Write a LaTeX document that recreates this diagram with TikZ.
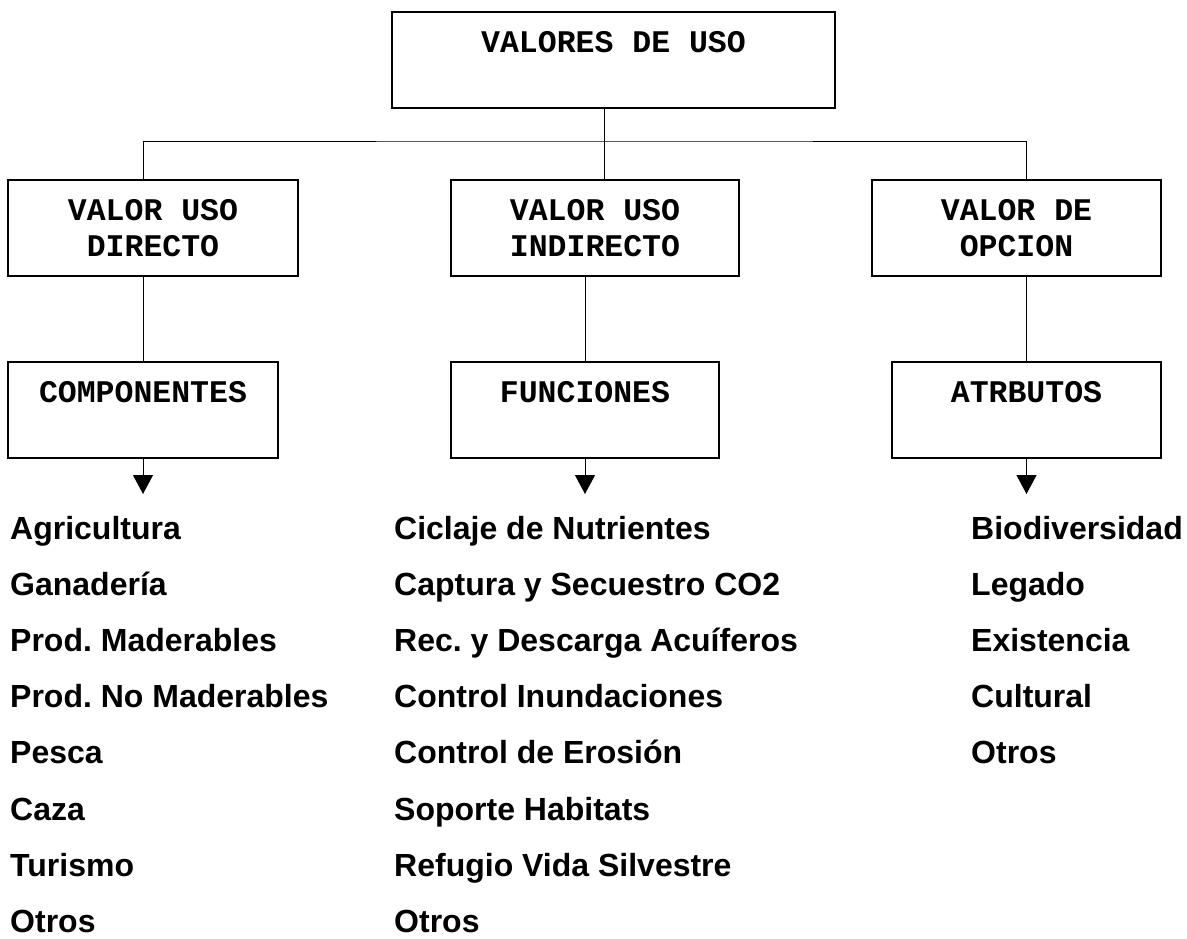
\documentclass[tikz,border=0pt]{standalone}
\usepackage{fontspec}
\setmainfont{Liberation Sans}
\newfontfamily\boxfont{Liberation Mono}
\usetikzlibrary{arrows.meta}
\frenchspacing

\begin{document}
\begin{tikzpicture}[x=1pt, y=-1pt,
  caja/.style={draw, line width=1.1pt, minimum height=96pt, inner sep=0pt, align=center,
    font=\boxfont\bfseries\fontsize{31.5}{36}\selectfont},
  lista/.style={anchor=base west, inner sep=0pt, font=\bfseries\fontsize{32}{38}\selectfont},
  linea/.style={line width=1pt},
  flecha/.style={line width=1pt, -{Triangle[width=20pt,length=19pt]}}]

\useasboundingbox (0,0) rectangle (1187,938);

% cajas
\node[caja, minimum width=443pt] (valores) at (613.5,60) {VALORES DE USO\\\mbox{}};

\node[caja, minimum width=290pt] (directo) at (153,228) {VALOR USO\\DIRECTO};
\node[caja, minimum width=288pt] (indirecto) at (595,228) {VALOR USO\\INDIRECTO};
\node[caja, minimum width=289pt] (opcion) at (1016.5,228) {VALOR DE\\OPCION};

\node[caja, minimum width=270pt] (componentes) at (143,410) {COMPONENTES\\\mbox{}};
\node[caja, minimum width=268pt] (funciones) at (585,410) {FUNCIONES\\\mbox{}};
\node[caja, minimum width=269pt] (atributos) at (1026.5,410) {ATRBUTOS\\\mbox{}};

% lineas
\coordinate (hub) at (604,141);
\draw[linea] (valores.south -| hub) -- (indirecto.north -| hub);
\draw[linea] (componentes |- directo.north) |- (hub) -| (atributos |- opcion.north);

\draw[linea] (componentes |- directo.south) -- (componentes.north);
\draw[linea] (funciones |- indirecto.south) -- (funciones.north);
\draw[linea] (atributos |- opcion.south) -- (atributos.north);

\coordinate (compfin) at (143,494);
\coordinate (funcfin) at (585,494);
\coordinate (atribfin) at (1026.5,494);
\draw[flecha] (componentes.south) -- (compfin);
\draw[flecha] (funciones.south) -- (funcfin);
\draw[flecha] (atributos.south) -- (atribfin);

% listas
\foreach \n/\txt in {1/Agricultura, 2/Ganadería, 3/Prod. Maderables, 4/Prod. No Maderables,
  5/Pesca, 6/Caza, 7/Turismo, 8/Otros}
  \node[lista] (comp\n) at (10,{539+56.2*(\n-1)}) {\txt};

\foreach \n/\txt in {1/Ciclaje de Nutrientes, 2/Captura y Secuestro CO2, 3/Rec. y Descarga Acuíferos,
  4/Control Inundaciones, 5/Control de Erosión, 6/Soporte Habitats, 7/Refugio Vida Silvestre, 8/Otros}
  \node[lista] (func\n) at (394,{539+56.2*(\n-1)}) {\txt};

\foreach \n/\txt in {1/Biodiversidad, 2/Legado, 3/Existencia, 4/Cultural, 5/Otros}
  \node[lista] (atrib\n) at (971,{539+56.2*(\n-1)}) {\txt};

\end{tikzpicture}
\end{document}
